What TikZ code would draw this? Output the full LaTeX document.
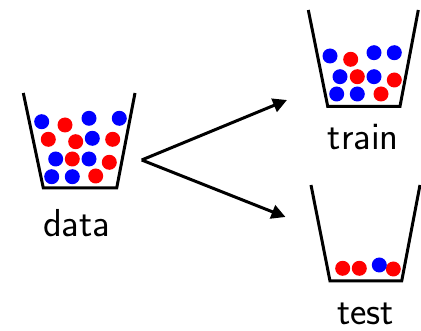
\documentclass[tikz,border=0pt]{standalone}
\usetikzlibrary{arrows.meta}
\begin{document}
\begin{tikzpicture}[x=1pt,y=-1pt,
  cup/.style={line width=3pt, line join=miter},
  rb/.style={fill=red},
  bb/.style={fill=blue},
  lbl/.style={font=\sffamily\fontsize{39}{42}\selectfont, anchor=base, inner sep=0pt},
  flow/.style={line width=3pt, -{Triangle[length=14pt,width=14pt]}}]
\useasboundingbox (0,0) rectangle (421,331);

% data cup
\draw[cup] (23.3,93) -- (43.3,188) -- (116.7,188) -- (135,93);
\foreach \x/\y in {65/125, 48.3/139.3, 75.7/141.7, 112.7/139.3, 72.3/159, 109.3/162.3, 95.7/176}
  \fill[rb] (\x,\y) circle (7.5);
\foreach \x/\y in {41.7/121.7, 89/118.3, 119.3/118.3, 92.3/138.3, 55.7/159, 89/159, 51.7/176.7, 72.3/176.7}
  \fill[bb] (\x,\y) circle (7.5);
\node[lbl] (data) at (76.7,236.7) {data};

% train cup
\draw[cup] (308.3,10) -- (327.7,106.3) -- (400,106.3) -- (418.3,10);
\foreach \x/\y in {350.7/59.3, 357.3/76.7, 394.3/80, 381/94}
  \fill[rb] (\x,\y) circle (7.5);
\foreach \x/\y in {330/56, 374/52.7, 394.3/52.7, 340/76.7, 374/76.7, 336.7/94, 357.3/94}
  \fill[bb] (\x,\y) circle (7.5);
\node[lbl] (train) at (363.3,150) {train};

% test cup
\draw[cup] (311,185) -- (330,281) -- (401.7,281) -- (420,185);
\foreach \x/\y in {342.7/268.3, 359.3/268.3, 393.3/269}
  \fill[rb] (\x,\y) circle (7.5);
\fill[bb] (379.3,265) circle (7.5);
\node[lbl] (test) at (365.5,325) {test};

% split arrows
\coordinate (split) at (141.7,160);
\coordinate (totrain) at (287,100);
\coordinate (totest) at (285.5,217);
\draw[flow] (split) -- (totrain);
\draw[flow] (split) -- (totest);
\end{tikzpicture}
\end{document}
